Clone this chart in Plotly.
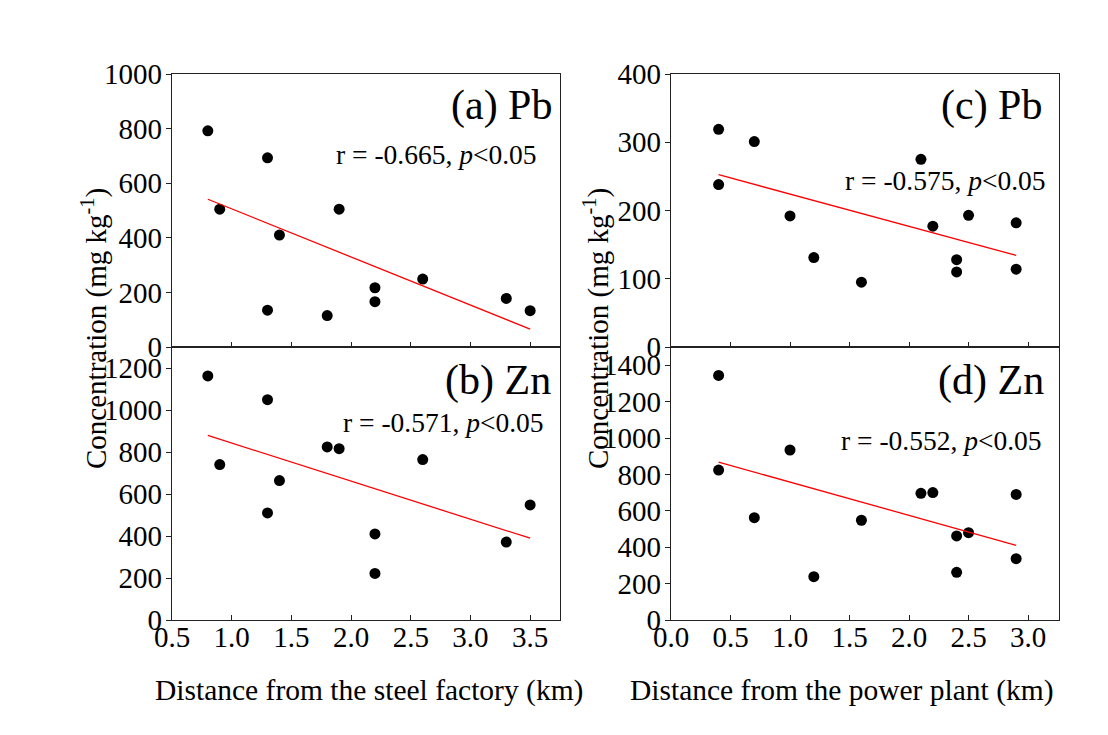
import numpy as np
import plotly.graph_objects as go

# ---- data ----
x_steel = [0.8, 0.9, 1.3, 1.3, 1.4, 1.8, 1.9, 2.2, 2.2, 2.6, 3.3, 3.5]
pb_steel = [792, 505, 693, 135, 410, 115, 505, 217, 166, 249, 178, 133]
zn_steel = [1162, 740, 1049, 510, 664, 824, 816, 410, 222, 764, 371, 548]

x_power = [0.4, 0.4, 0.7, 1.0, 1.2, 1.6, 2.1, 2.2, 2.4, 2.4, 2.5, 2.9, 2.9]
pb_power = [319, 238, 301, 192, 131, 95, 275, 177, 128, 110, 193, 182, 114]
x_power_zn = [0.4, 0.4, 0.7, 1.0, 1.2, 1.6, 2.1, 2.2, 2.4, 2.4, 2.5, 2.9, 2.9]
zn_power = [1344, 824, 562, 934, 238, 548, 696, 700, 462, 262, 480, 690, 337]

panel_labels = ["(a) Pb", "(b) Zn", "(c) Pb", "(d) Zn"]
r_labels = ["r = -0.665, <i>p</i><0.05", "r = -0.571, <i>p</i><0.05",
            "r = -0.575, <i>p</i><0.05", "r = -0.552, <i>p</i><0.05"]
x_titles = ["Distance from the steel factory (km)", "Distance from the power plant (km)"]
y_title = "Concentration (mg kg<sup>-1</sup>)"

W, H = 1108, 735
OFF = 8  # page body margin
FONT = "Liberation Serif, Times New Roman, serif"


def px(x):
    return (x - OFF) / W


def py(y):
    return 1 - (y - OFF) / H


fig = go.Figure()

panels = [
    (x_steel, pb_steel, "x", "y"),
    (x_steel, zn_steel, "x2", "y2"),
    (x_power, pb_power, "x3", "y3"),
    (x_power_zn, zn_power, "x4", "y4"),
]

for xs, ys, xa, ya in panels:
    fig.add_trace(go.Scatter(x=xs, y=ys, mode="markers", xaxis=xa, yaxis=ya,
                             marker=dict(color="black", size=11),
                             showlegend=False, hoverinfo="skip"))
    k, b = np.polyfit(np.array(xs, float), np.array(ys, float), 1)
    xl = np.array([min(xs), max(xs)])
    fig.add_trace(go.Scatter(x=xl, y=k * xl + b, mode="lines", xaxis=xa, yaxis=ya,
                             line=dict(color="red", width=1.3),
                             showlegend=False, hoverinfo="skip"))

xdL = [px(172), px(560)]
xdR = [px(671), px(1059)]
ydT = [py(347), py(74)]
ydB = [py(620), py(347)]

axis_common = dict(showline=True, linecolor="#222", linewidth=1.4, mirror=True,
                   showgrid=False, zeroline=False,
                   tickfont=dict(family=FONT, size=29, color="black"),
                   ticklen=5, tickwidth=1.3, tickcolor="#222", automargin=False)

xcommon = dict(axis_common, ticks="inside", tickformat=".1f", dtick=0.5,
               ticklabelstandoff=-9)
ycommon = dict(axis_common, ticks="outside", ticklabelstandoff=-2)

fig.update_layout(
    xaxis=dict(xcommon, domain=xdL, range=[0.5, 3.75], tick0=0.5, anchor="y", showticklabels=False),
    yaxis=dict(ycommon, domain=ydT, range=[0, 1000], dtick=200, anchor="x"),
    xaxis2=dict(xcommon, domain=xdL, range=[0.5, 3.75], tick0=0.5, anchor="y2"),
    yaxis2=dict(ycommon, domain=ydB, range=[0, 1300], dtick=200, anchor="x2"),
    xaxis3=dict(xcommon, domain=xdR, range=[0, 3.26], tick0=0, anchor="y3", showticklabels=False),
    yaxis3=dict(ycommon, domain=ydT, range=[0, 400], dtick=100, anchor="x3"),
    xaxis4=dict(xcommon, domain=xdR, range=[0, 3.26], tick0=0, anchor="y4"),
    yaxis4=dict(ycommon, domain=ydB, range=[0, 1500], dtick=200, anchor="x4"),
    width=W, height=H,
    margin=dict(l=0, r=0, t=0, b=0),
    plot_bgcolor="white", paper_bgcolor="white",
)

ann = []
for text, (xr, yc) in zip(panel_labels, [(554, 105), (553, 380), (1044, 105), (1046, 380)]):
    ann.append(dict(text=text, x=px(xr), y=py(yc), xref="paper", yref="paper",
                    xanchor="right", yanchor="middle", showarrow=False,
                    font=dict(family=FONT, size=42, color="black")))
for text, (xr, yc) in zip(r_labels, [(539, 155), (546, 423), (1048, 180), (1044, 440)]):
    ann.append(dict(text=text, x=px(xr), y=py(yc), xref="paper", yref="paper",
                    xanchor="right", yanchor="middle", showarrow=False,
                    font=dict(family=FONT, size=27.5, color="black")))
for text, xc in zip(x_titles, [369, 842]):
    ann.append(dict(text=text, x=px(xc), y=py(690), xref="paper", yref="paper",
                    xanchor="center", yanchor="middle", showarrow=False,
                    font=dict(family=FONT, size=29.5, color="black")))
for xc in [94, 596]:
    ann.append(dict(text=y_title, x=px(xc), y=py(329), xref="paper", yref="paper",
                    xanchor="center", yanchor="middle", showarrow=False, textangle=-90,
                    font=dict(family=FONT, size=29, color="black")))
fig.update_layout(annotations=ann)

fig.write_html("out.html")
